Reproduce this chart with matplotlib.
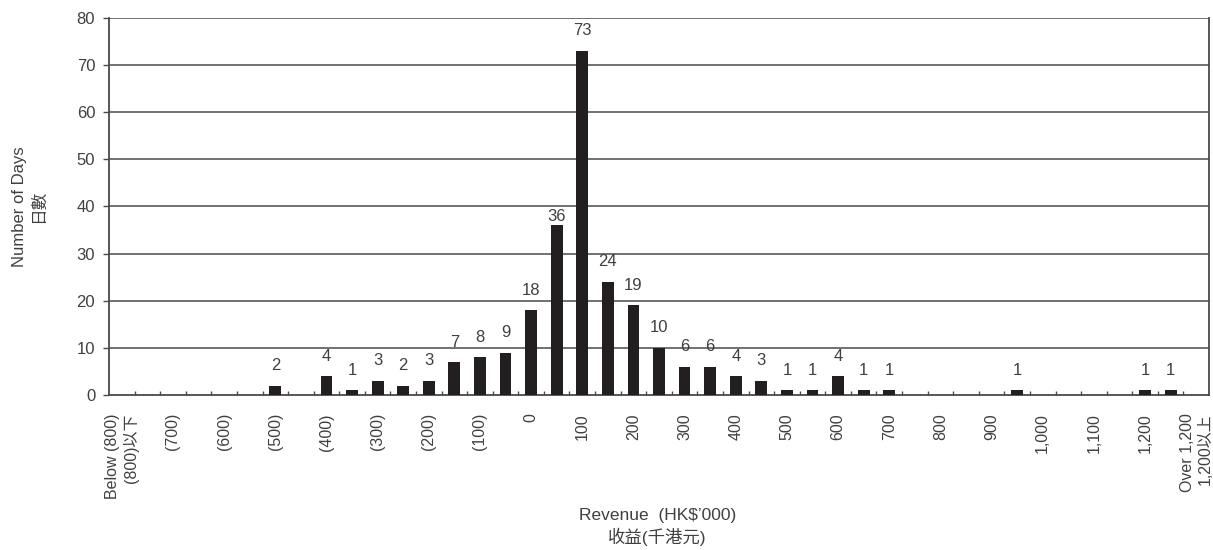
#!/usr/bin/env python3

import numpy as np
import matplotlib
matplotlib.use('Agg')
import matplotlib.pyplot as plt
from matplotlib.ticker import FixedLocator

plt.rcParams['font.family'] = ['Liberation Sans', 'Noto Sans CJK TC', 'DejaVu Sans']

# number of days per revenue bin (HK$'000), bins of 50 from (800) upwards
days = [0, 0, 0, 0, 0, 0, 2, 0, 4, 1, 3, 2, 3, 7, 8, 9, 18, 36, 73, 24, 19,
        10, 6, 6, 4, 3, 1, 1, 4, 1, 1, 0, 0, 0, 0, 1, 0, 0, 0, 0, 1, 1, 0]

# labels shown on every second bin
tick_labels = ["Below (800)\n(800)以下", "(700)", "(600)", "(500)", "(400)",
               "(300)", "(200)", "(100)", "0", "100", "200", "300", "400",
               "500", "600", "700", "800", "900", "1,000", "1,100", "1,200",
               "Over 1,200\n1,200以上"]

y_ticks = [0, 10, 20, 30, 40, 50, 60, 70, 80]

text_color = '#404040'
bar_color = '#231f20'
line_color = '#4a4a4a'

fig = plt.figure(figsize=(12.13, 5.5), dpi=100)
ax = fig.add_axes([0.0899, 0.2818, 0.9068, 0.6855])

x = np.arange(len(days))
ax.bar(x, days, width=0.46, color=bar_color, zorder=3)

for xi, v in zip(x, days):
    if v > 0:
        # the 36 label sits right on its bar in the original
        off = 1 if v == 36 else 9
        ax.annotate(str(v), (xi, v), xytext=(0, off), textcoords='offset points',
                    ha='center', va='bottom', fontsize=12, color=text_color)

ax.set_xlim(-0.5, len(days) - 0.5)
ax.set_ylim(0, 80)

# gridlines
for yv in y_ticks[1:]:
    ax.axhline(yv, color=line_color, lw=1.1, zorder=1)

ax.set_yticks(y_ticks)
ax.tick_params(axis='y', direction='out', length=4, width=1, colors=line_color,
               labelcolor=text_color, labelsize=12, pad=6)

ax.set_xticks(x[::2])
ax.set_xticklabels(tick_labels, rotation=90, ha='center', va='top',
                   multialignment='right')
ax.tick_params(axis='x', which='major', length=0, pad=13, labelsize=11.5,
               labelcolor=text_color)
ax.xaxis.set_minor_locator(FixedLocator(np.arange(0.5, len(days) - 1, 1.0)))
ax.tick_params(axis='x', which='minor', direction='in', length=3, width=1,
               colors=line_color)

for s in ['left', 'right', 'bottom']:
    ax.spines[s].set_color(line_color)
    ax.spines[s].set_linewidth(1.3)
ax.spines['top'].set_visible(False)

ax.set_ylabel("Number of Days\n日數", fontsize=12, color=text_color,
              labelpad=22, linespacing=1.3)
fig.text(0.5418, 0.042, "Revenue  (HK$\u2019000)\n收益(千港元)", ha='center',
         va='center', fontsize=12.5, color=text_color, linespacing=1.35)

plt.savefig('out.png', dpi=100)
